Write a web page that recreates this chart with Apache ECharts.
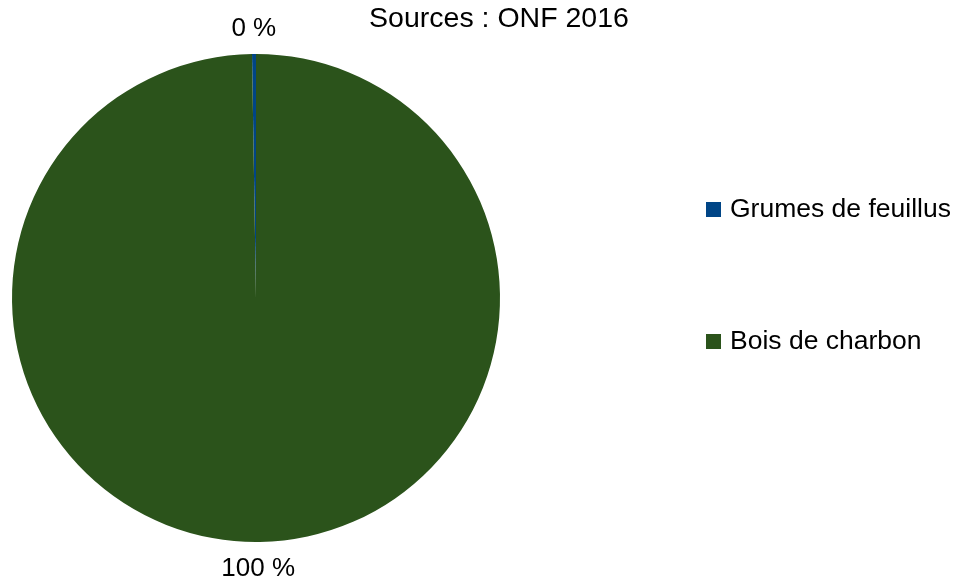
<!DOCTYPE html>
<html>
<head>
<meta charset="utf-8">
<script src="https://cdn.jsdelivr.net/npm/echarts@6/dist/echarts.min.js"></script>
<style>
  html, body { margin: 0; padding: 0; background: #ffffff; }
  #chart { width: 955px; height: 579px; }
</style>
</head>
<body>
<div id="chart"></div>
<script>
// Répartition des volumes vendus par produit
const categories = ['Grumes de feuillus', 'Bois de charbon'];
const shares = [0.26, 99.74];
const colors = ['#004586', '#2b531b'];
const titleText = 'Sources : ONF 2016';

const FONT = 'Liberation Sans, Arial, sans-serif';
const CENTER = [256, 298];

const pieData = categories.map((name, i) => ({
  name: name,
  value: shares[i],
  itemStyle: { color: colors[i] }
}));

const chart = echarts.init(document.getElementById('chart'), null, { renderer: 'canvas' });
chart.setOption({
  animation: false,
  backgroundColor: '#ffffff',
  title: {
    text: titleText,
    left: 494,
    top: 0,
    textAlign: 'center',
    textStyle: { fontFamily: FONT, fontSize: 28.5, fontWeight: 'normal', color: '#000000' }
  },
  legend: {
    orient: 'vertical',
    left: 701,
    top: 191,
    icon: 'rect',
    itemWidth: 15,
    itemHeight: 15,
    itemGap: 105,
    data: categories,
    selectedMode: false,
    textStyle: { fontFamily: FONT, fontSize: 26.5, color: '#000000', padding: [0, 0, 0, 4] }
  },
  series: [
    {
      // the pie itself
      type: 'pie',
      center: CENTER,
      radius: [0, 244],
      startAngle: 90,
      clockwise: false,
      silent: true,
      z: 2,
      label: { show: false },
      labelLine: { show: false },
      itemStyle: { borderWidth: 0 },
      data: pieData
    },
    {
      // invisible ring carrying the percentage labels just outside the pie
      type: 'pie',
      center: [CENTER[0], CENTER[1] + 0.5],
      radius: [0, 534],
      startAngle: 90,
      clockwise: false,
      silent: true,
      z: 1,
      itemStyle: { color: 'rgba(0,0,0,0)', borderWidth: 0 },
      label: {
        show: true,
        position: 'inside',
        fontFamily: FONT,
        fontSize: 26,
        color: '#000000',
        formatter: p => Math.round(p.percent) + ' %'
      },
      labelLine: { show: false },
      data: categories.map((name, i) => ({ name: name, value: shares[i] }))
    }
  ]
});
</script>
</body>
</html>
